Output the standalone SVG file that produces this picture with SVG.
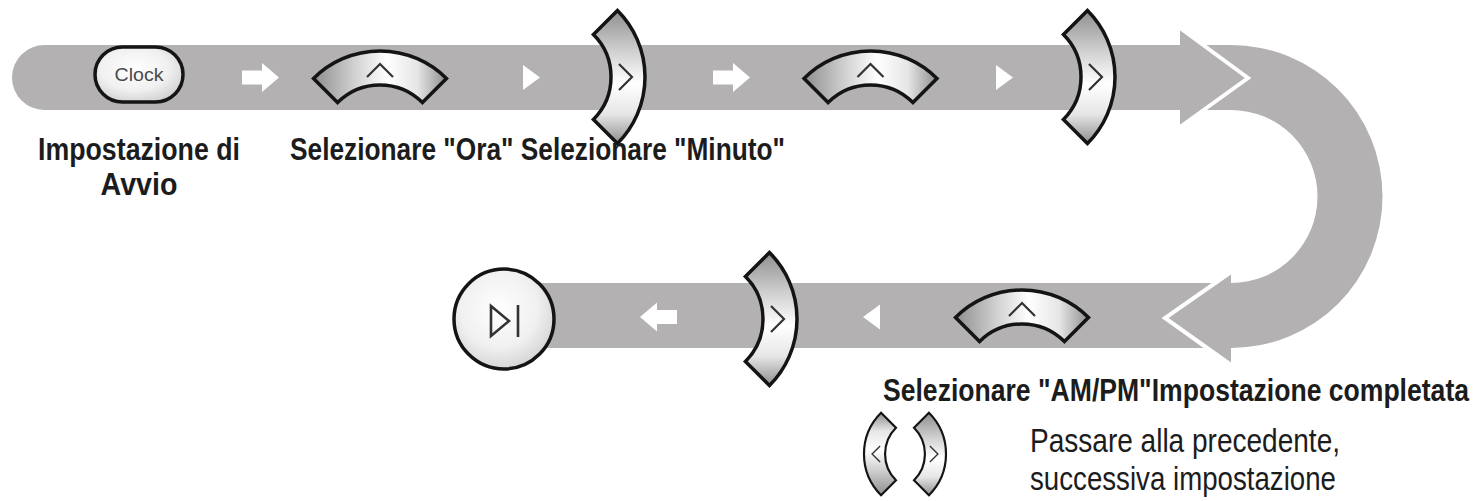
<svg xmlns="http://www.w3.org/2000/svg" xmlns:xlink="http://www.w3.org/1999/xlink" width="1479" height="501" viewBox="0 0 1479 501">
<style>
.band{fill:#b3b1b2}
.wht{fill:#ffffff}
.edge{fill:none;stroke:#ffffff;stroke-width:4;stroke-linejoin:miter}
.btn{fill:url(#gArc);stroke:#141414;stroke-width:3.5;stroke-linejoin:miter}
.caret{fill:none;stroke:#333333;stroke-width:2.2}
.lbl{font-family:"Liberation Sans Narrow","Liberation Sans",Arial,sans-serif;font-stretch:condensed;font-weight:bold;font-size:32px;fill:#1c1c1c}
.leg{font-family:"Liberation Sans Narrow","Liberation Sans",Arial,sans-serif;font-stretch:condensed;font-size:33px;fill:#1c1c1c}
</style>
<defs>
<linearGradient id="gArc" x1="0" y1="0" x2="1" y2="0">
<stop offset="0" stop-color="#8e8e8e"/>
<stop offset="0.3" stop-color="#cfcfcf"/>
<stop offset="0.55" stop-color="#ffffff"/>
<stop offset="0.78" stop-color="#e6e6e6"/>
<stop offset="1" stop-color="#8e8e8e"/>
</linearGradient>
<radialGradient id="gRound" cx="0.45" cy="0.4" r="0.65">
<stop offset="0" stop-color="#ffffff"/>
<stop offset="0.6" stop-color="#f0f0f0"/>
<stop offset="1" stop-color="#cfcfcf"/>
</radialGradient>
<g id="arcBtn">
<path class="btn" d="M -66.47,27.53 A 94 94 0 0 1 66.47,27.53 L 42.43,51.57 A 60 60 0 0 0 -42.43,51.57 Z"/>
<path class="caret" d="M -13,26 L 0,13 L 13,26"/>
</g>
<path id="barrow" class="wht" d="M -37,-7 H -17 V -14.5 L 0,0 L -17,14.5 V 7 H -37 Z"/>
<path id="tri" class="wht" d="M -17,-12.5 L 0,0 L -17,12.5 Z"/>
</defs>

<rect width="1479" height="501" fill="#ffffff"/>

<g id="connectors">
<path class="band" d="M 44.5,45 H 1200 V 110 H 44.5 A 32.5 32.5 0 0 1 44.5,45 Z"/>
<path class="band" d="M 1190,45 H 1231 A 151.5 151.5 0 0 1 1231,348 H 1190 V 283 H 1231 A 86.5 86.5 0 0 0 1231,110 H 1190 Z"/>
<rect class="band" x="500" y="283" width="700" height="65"/>
<polygon class="band" points="1180,28 1248,78 1180,127"/>
<polyline class="edge" points="1180,28 1248,78 1180,127"/>
<polygon class="band" points="1231,272 1165,318 1231,365"/>
<polyline class="edge" points="1231,272 1165,318 1231,365"/>
<use xlink:href="#barrow" transform="translate(279,77.5)"/>
<use xlink:href="#tri" transform="translate(540,77.5)"/>
<use xlink:href="#barrow" transform="translate(750,77.5)"/>
<use xlink:href="#tri" transform="translate(1013,77.5)"/>
<use xlink:href="#tri" transform="translate(863,317) scale(-1,1)"/>
<use xlink:href="#barrow" transform="translate(640,317) scale(-1,1)"/>
</g>

<g id="labels">
<text class="lbl" x="139" y="160" text-anchor="middle" textLength="202" lengthAdjust="spacingAndGlyphs">Impostazione di</text>
<text class="lbl" x="139" y="195" text-anchor="middle" textLength="77" lengthAdjust="spacingAndGlyphs">Avvio</text>
<text class="lbl" x="290" y="160" textLength="495" lengthAdjust="spacingAndGlyphs">Selezionare "Ora" Selezionare "Minuto"</text>
<text class="lbl" x="1469" y="401" text-anchor="end" textLength="586" lengthAdjust="spacingAndGlyphs">Selezionare "AM/PM"Impostazione completata</text>
</g>

<g id="node-clock">
<rect x="95" y="47" width="88" height="55" rx="27.5" ry="27.5" fill="url(#gRound)" stroke="#141414" stroke-width="3.5"/>
<text x="139" y="81" text-anchor="middle" font-family="Liberation Sans, Arial, sans-serif" font-size="18" fill="#4a4a4a" textLength="49" lengthAdjust="spacingAndGlyphs">Clock</text>
</g>
<g id="node-up-hour"><use xlink:href="#arcBtn" transform="translate(380,51)"/></g>
<g id="node-next-1"><use xlink:href="#arcBtn" transform="translate(645,77) rotate(90)"/></g>
<g id="node-up-minute"><use xlink:href="#arcBtn" transform="translate(870.5,51)"/></g>
<g id="node-next-2"><use xlink:href="#arcBtn" transform="translate(1115,77) rotate(90)"/></g>
<g id="node-up-ampm"><use xlink:href="#arcBtn" transform="translate(1022,290)"/></g>
<g id="node-next-3"><use xlink:href="#arcBtn" transform="translate(797,319) rotate(90)"/></g>
<g id="node-playpause">
<circle cx="504" cy="319" r="50" fill="url(#gRound)" stroke="#141414" stroke-width="3.5"/>
<path d="M 491,306 L 509,321 L 491,336 Z" fill="none" stroke="#333333" stroke-width="2.6" stroke-linejoin="miter"/>
<line x1="518" y1="305" x2="518" y2="337" stroke="#333333" stroke-width="2.6"/>
</g>

<g id="legend">
<use xlink:href="#arcBtn" transform="translate(864,454) rotate(-90) scale(0.62)"/>
<use xlink:href="#arcBtn" transform="translate(946,454) rotate(90) scale(0.62)"/>
<text class="leg" x="1030" y="452" textLength="310" lengthAdjust="spacingAndGlyphs">Passare alla precedente,</text>
<text class="leg" x="1030" y="490" textLength="306" lengthAdjust="spacingAndGlyphs">successiva impostazione</text>
</g>
</svg>
